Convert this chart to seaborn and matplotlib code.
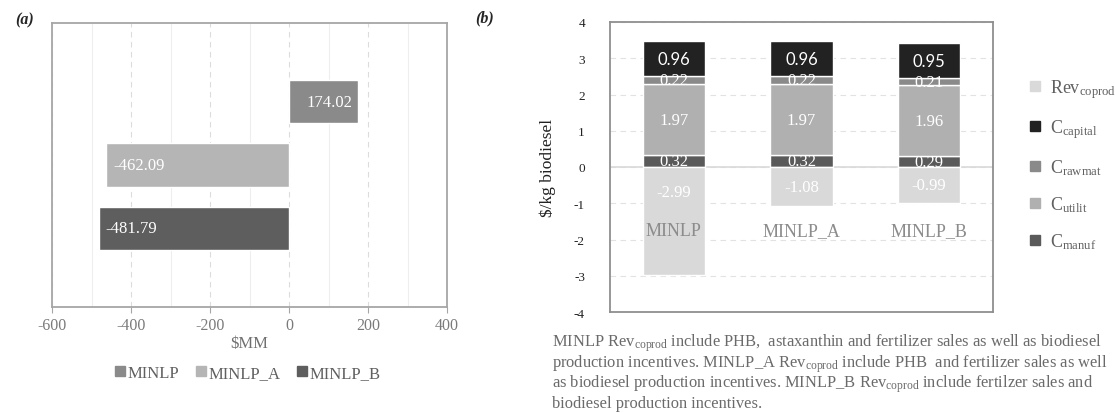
import matplotlib
matplotlib.use('Agg')
import matplotlib.pyplot as plt
from matplotlib.lines import Line2D
from matplotlib.ticker import MultipleLocator
import numpy as np
import pandas as pd
import seaborn as sns

# panel (a): net value of each design, $MM
scenarios = ['MINLP', 'MINLP_A', 'MINLP_B']
net_value = [174.02, -462.09, -481.79]
scenario_colors = ['#8a8a8a', '#b5b5b5', '#5e5e5e']

# panel (b): cost breakdown, $/kg biodiesel (stacked bottom -> top)
c_manuf = [0.32, 0.32, 0.29]
c_utilit = [1.97, 1.97, 1.96]
c_rawmat = [0.22, 0.22, 0.21]
c_capital = [0.96, 0.96, 0.95]
rev_coprod = [-2.99, -1.08, -0.99]

layer_names = [r'C$_{\mathrm{manuf}}$', r'C$_{\mathrm{utilit}}$',
               r'C$_{\mathrm{rawmat}}$', r'C$_{\mathrm{capital}}$']
layer_colors = ['#5a5a5a', '#b0b0b0', '#8a8a8a', '#222222']
rev_name = r'Rev$_{\mathrm{coprod}}$'
rev_color = '#d9d9d9'

caption = [
    r'MINLP Rev$_{\mathrm{coprod}}$ include PHB,  astaxanthin and fertilizer sales as well as biodiesel',
    r'production incentives. MINLP_A Rev$_{\mathrm{coprod}}$ include PHB  and fertilizer sales as well',
    r'as biodiesel production incentives. MINLP_B Rev$_{\mathrm{coprod}}$ include fertilzer sales and',
    'biodiesel production incentives.',
]

sns.set_theme(style='white')
plt.rcParams['font.family'] = ['Liberation Serif', 'DejaVu Serif']
plt.rcParams['mathtext.fontset'] = 'custom'
plt.rcParams['mathtext.rm'] = 'Liberation Serif'
plt.rcParams['mathtext.it'] = 'Liberation Serif:italic'
plt.rcParams['axes.unicode_minus'] = False

W, H = 1115, 414
fig = plt.figure(figsize=(W / 100, H / 100), dpi=100)


def fig_box(left, top, right, bottom):
    return [left / W, 1 - bottom / H, (right - left) / W, (bottom - top) / H]


# ---------------- panel (a) ----------------
ax_a = fig.add_axes(fig_box(52, 24, 447, 308))
df_a = pd.DataFrame({'scenario': scenarios, 'value': net_value})
sns.barplot(data=df_a, x='value', y='scenario', hue='scenario',
            palette=scenario_colors, orient='h', width=0.68,
            saturation=1, legend=False, ax=ax_a, zorder=3)

ax_a.set_xlim(-600, 400)
ax_a.set_ylim(3.24, -1.24)
ax_a.xaxis.set_major_locator(MultipleLocator(200))
ax_a.xaxis.set_minor_locator(MultipleLocator(100))
ax_a.grid(which='major', axis='x', ls=(0, (5, 4)), color='#dcdcdc', lw=0.8)
ax_a.grid(which='minor', axis='x', ls='-', color='#eeeeee', lw=0.8)
ax_a.set_axisbelow(True)
ax_a.set_yticks([])
ax_a.set_ylabel('')
ax_a.set_xlabel(r'\$MM', fontsize=12, color='#707070', labelpad=2)
ax_a.tick_params(axis='x', which='major', bottom=True, length=4, width=0.8,
                 color='#a6a6a6', labelsize=11.5, labelcolor='#7a7a7a', pad=3)
ax_a.tick_params(axis='x', which='minor', bottom=False)
for s in ax_a.spines.values():
    s.set_color('#a6a6a6')
    s.set_linewidth(1.3)

for i, v in enumerate(net_value):
    if v > 0:
        ax_a.annotate(f'{v:.2f}', (v, i), xytext=(-4, 0), textcoords='offset points',
                      ha='right', va='center', color='white', fontsize=12, zorder=4)
    else:
        ax_a.annotate(f'{v:.2f}', (v, i), xytext=(5, 0), textcoords='offset points',
                      ha='left', va='center', color='white', fontsize=12, zorder=4)

handles_a = [Line2D([], [], ls='', marker='s', ms=7, color=c) for c in scenario_colors]
fig.legend(handles_a, scenarios, loc='center', bbox_to_anchor=(247 / W, 1 - 374 / H),
           ncol=3, frameon=False, fontsize=12, labelcolor='#606060',
           handletextpad=0.05, columnspacing=0.9, handlelength=0.8)

fig.text(15 / W, 1 - 20 / H, '(a)', fontsize=11.5, fontweight='bold',
         fontstyle='italic', va='center', ha='left')

# ---------------- panel (b) ----------------
ax_b = fig.add_axes(fig_box(610, 23, 993, 313))
layers = [c_manuf, c_utilit, c_rawmat, c_capital]
bottom = np.zeros(len(scenarios))
for vals, col in zip(layers, layer_colors):
    sns.barplot(x=scenarios, y=vals, color=col, width=0.49, saturation=1,
                bottom=bottom, ax=ax_b, zorder=3)
    for i, v in enumerate(vals):
        fam = ['Lato', 'DejaVu Sans'] if col == '#222222' else None
        ax_b.text(i, bottom[i] + v / 2, f'{v:.2f}', ha='center', va='center',
                  color='white', fontsize=12, family=fam, zorder=4)
    bottom = bottom + np.array(vals)

sns.barplot(x=scenarios, y=rev_coprod, color=rev_color, width=0.49,
            saturation=1, ax=ax_b, zorder=3)
for i, v in enumerate(rev_coprod):
    ax_b.text(i, max(v / 2, -0.7), f'{v:.2f}', ha='center', va='center',
              color='white', fontsize=12, zorder=4)
for i, name in enumerate(scenarios):
    ax_b.text(i, -1.75, name, ha='center', va='center', color='#8c8c8c',
              fontsize=13, zorder=4)

ax_b.set_xlim(-0.5, 2.5)
ax_b.set_ylim(-4, 4)
ax_b.set_yticks(range(-4, 5))
ax_b.set_xticks([])
ax_b.grid(axis='y', ls=(0, (5, 4)), color='#e2e2e2', lw=0.8)
ax_b.set_axisbelow(True)
ax_b.axhline(0, color='#d9d9d9', lw=1.2, zorder=2)
ax_b.tick_params(axis='y', left=False, labelsize=9.5, labelcolor='#222222', pad=12)
ax_b.set_ylabel(r'\$/kg biodiesel', fontsize=12.5, color='#222222')
ax_b.yaxis.set_label_coords(-0.14, 0.5)
for s in ax_b.spines.values():
    s.set_color('#8f8f8f')
    s.set_linewidth(1.3)

handles_b = [Line2D([], [], ls='', marker='s', ms=7, color=c)
             for c in [rev_color] + layer_colors[::-1]]
labels_b = [rev_name] + layer_names[::-1]
fig.legend(handles_b, labels_b, loc='upper left', bbox_to_anchor=(1012 / W, 1 - 62 / H),
           frameon=False, fontsize=13, labelcolor='#606060', handletextpad=0.4,
           handlelength=0.8, labelspacing=0.95)

fig.text(475 / W, 1 - 18 / H, '(b)', fontsize=11.5, fontweight='bold',
         fontstyle='italic', va='center', ha='left')

for k, line in enumerate(caption):
    fig.text(552 / W, 1 - (347 + 20.3 * k) / H, line, fontsize=11.9,
             color='#6a6a6a', ha='left', va='baseline')

fig.savefig('out.png', dpi=100)
